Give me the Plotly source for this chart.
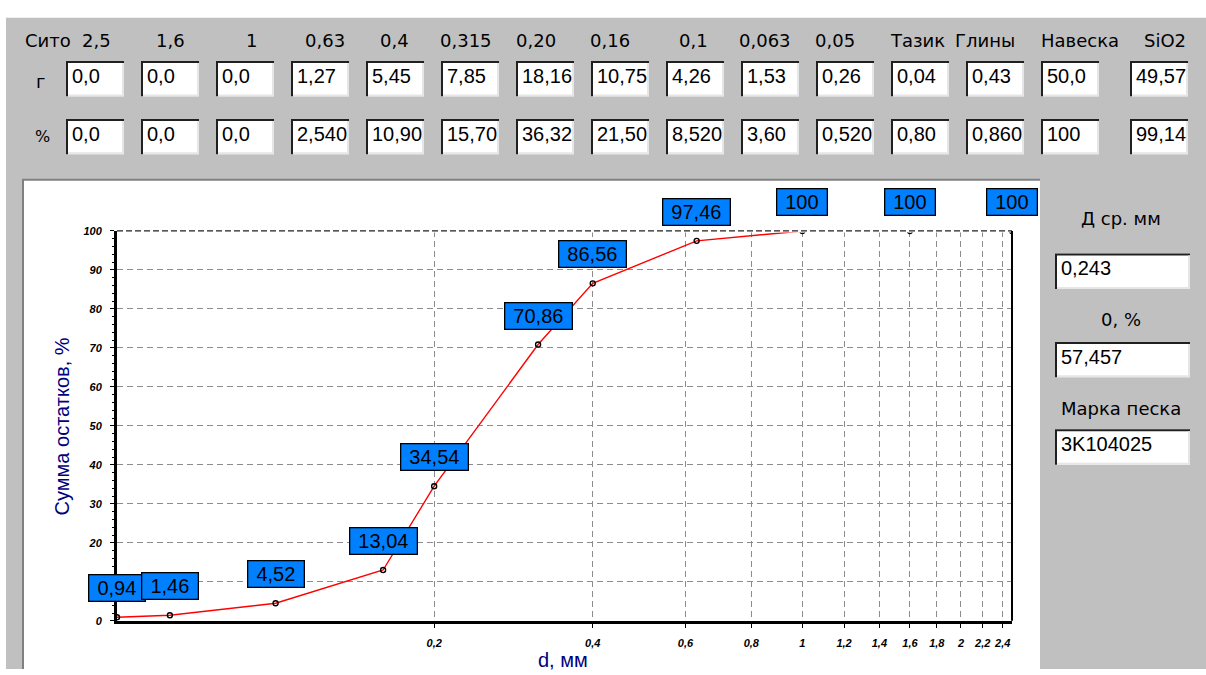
import numpy as np
import plotly.graph_objects as go

# ---------------- data ----------------
# sieve table
sieve_headers = ["2,5", "1,6", "1", "0,63", "0,4", "0,315", "0,20", "0,16", "0,1",
                 "0,063", "0,05", "Тазик", "Глины", "Навеска", "SiO2"]
mass_g = ["0,0", "0,0", "0,0", "1,27", "5,45", "7,85", "18,16", "10,75", "4,26",
          "1,53", "0,26", "0,04", "0,43", "50,0", "49,57"]
mass_pct = ["0,0", "0,0", "0,0", "2,540", "10,90", "15,70", "36,32", "21,50", "8,520",
            "3,60", "0,520", "0,80", "0,860", "100", "99,14"]

# grading curve
d_mm = [0.05, 0.063, 0.1, 0.16, 0.2, 0.315, 0.4, 0.63, 1.0, 1.6, 2.5]
residue_sum = [0.94, 1.46, 4.52, 13.04, 34.54, 70.86, 86.56, 97.46, 100, 100, 100]

x_tickvals = [0.2, 0.4, 0.6, 0.8, 1, 1.2, 1.4, 1.6, 1.8, 2, 2.2, 2.4]
x_ticktext = ["0,2", "0,4", "0,6", "0,8", "1", "1,2", "1,4", "1,6", "1,8", "2", "2,2", "2,4"]

# side panel
side_labels = ["Д ср. мм", "0, %", "Марка песка"]
side_values = ["0,243", "57,457", "3K104025"]

# ---------------- layout helpers ----------------
W, H = 1206, 675
FORM_BG = "#C0C0C0"
FONT_UI = "DejaVu Sans"
FONT_BOX = "Liberation Sans"


def px(x):
    return x / W


def py(y):
    return 1 - y / H


shapes = []
annotations = []

# form background
shapes.append(dict(type="rect", xref="paper", yref="paper", layer="below",
                   x0=px(6), x1=px(W), y0=0, y1=py(12),
                   fillcolor=FORM_BG, line=dict(width=0)))
# chart panel
shapes.append(dict(type="rect", xref="paper", yref="paper", layer="below",
                   x0=px(22), x1=px(1040), y0=0, y1=py(177),
                   fillcolor="white", line=dict(width=0)))
shapes.append(dict(type="path", xref="paper", yref="paper", layer="below",
                   path=f"M {px(23)} 0 L {px(23)} {py(177)} L {px(1040)} {py(177)}",
                   line=dict(color="#808080", width=2)))


def text_box(x0, y0, x1, y1, value):
    shapes.append(dict(type="rect", xref="paper", yref="paper", layer="below",
                       x0=px(x0), x1=px(x1), y0=py(y1), y1=py(y0),
                       fillcolor="white", line=dict(width=0)))
    shapes.append(dict(type="path", xref="paper", yref="paper", layer="below",
                       path=f"M {px(x0 + 1)} {py(y1)} L {px(x0 + 1)} {py(y0 + 1)} L {px(x1)} {py(y0 + 1)}",
                       line=dict(color="#202020", width=2)))
    shapes.append(dict(type="path", xref="paper", yref="paper", layer="below",
                       path=f"M {px(x0 + 2)} {py(y1 - 1)} L {px(x1 - 1)} {py(y1 - 1)} L {px(x1 - 1)} {py(y0 + 2)}",
                       line=dict(color="#E6E6E6", width=2)))
    annotations.append(dict(xref="paper", yref="paper", x=px(x0 + 4), y=py((y0 + y1) / 2 - 3),
                            xanchor="left", yanchor="middle", showarrow=False, text=value,
                            font=dict(family=FONT_BOX, size=20, color="black")))


def label(x, y, text, size=18, family=FONT_UI, color="black", anchor="center"):
    # plotly centres the whole line box, so lift it a little to centre the glyphs
    annotations.append(dict(xref="paper", yref="paper", x=px(x), y=py(y - 4),
                            xanchor=anchor, yanchor="middle", showarrow=False, text=text,
                            font=dict(family=family, size=size, color=color)))


# table header and rows
header_cx = [96, 170, 251, 325, 394, 466, 536, 610, 693, 765, 835, 917, 985, 1080, 1165]
box_x = [66 + 75 * i for i in range(14)] + [1130]
label(23, 39, "Сито", anchor="left")
for cx, h in zip(header_cx, sieve_headers):
    label(cx, 39, h)
label(40, 81, "г")
label(42, 137, "%", size=16)
for bx, g, p in zip(box_x, mass_g, mass_pct):
    text_box(bx, 56, bx + 58, 92, g)
    text_box(bx, 115, bx + 58, 151, p)

# side panel
side_label_y = [220, 323, 414]
side_box_y = [252, 342, 431]
for ly, by, t, v in zip(side_label_y, side_box_y, side_labels, side_values):
    label(1121, ly, t)
    text_box(1055, by, 1190, by + 36, v)

# axis titles
annotations.append(dict(xref="paper", yref="paper", x=px(62), y=py(428),
                        xanchor="center", yanchor="middle", showarrow=False,
                        text="Сумма остатков, %", textangle=-90,
                        font=dict(family=FONT_BOX, size=20, color="#000080")))
label(563, 670, "d, мм", size=20, family=FONT_BOX, color="#000080")

# frame of the plotting area: solid right edge, dashed top edge
shapes.append(dict(type="line", xref="x domain", yref="y domain", layer="above",
                   x0=0, x1=1, y0=1, y1=1, line=dict(color="white", width=3)))
shapes.append(dict(type="line", xref="x domain", yref="y domain", layer="above",
                   x0=0, x1=1, y0=1, y1=1, line=dict(color="#202020", width=1.2, dash="6px,3px")))
shapes.append(dict(type="line", xref="x domain", yref="y domain", layer="above",
                   x0=1, x1=1, y0=0, y1=1, line=dict(color="black", width=2)))

# value labels above each point
for d, v in zip(d_mm, residue_sum):
    txt = f"{v:g}".replace(".", ",")
    w = sum(5.8 if ch == "," else 11.1 for ch in txt) + 14
    annotations.append(dict(xref="x", yref="y", x=np.log10(d), y=v, yshift=29,
                            showarrow=False, text=txt, width=w, height=23,
                            bgcolor="#0080FF", bordercolor="black", borderwidth=1.3, borderpad=1,
                            font=dict(family=FONT_BOX, size=20, color="black")))

fig = go.Figure()
fig.add_trace(go.Scatter(
    x=d_mm, y=residue_sum, mode="lines+markers",
    line=dict(color="#FF0000", width=1.4),
    marker=dict(symbol="circle-open", size=5, color="black", line=dict(width=1.4, color="black")),
    hoverinfo="skip",
))

tick_font = dict(family=FONT_BOX, size=11, color="black", weight="bold", style="italic")
grid_style = dict(showgrid=True, gridcolor="#8C8C8C", gridwidth=1, griddash="6px,4px",
                  zeroline=False, showline=True, linecolor="black", linewidth=3,
                  ticks="outside", ticklen=4, tickcolor="black", tickwidth=1,
                  tickfont=tick_font, ticklabelstandoff=6, fixedrange=True)

fig.update_layout(
    width=W, height=H,
    margin=dict(l=0, r=0, t=0, b=0, pad=0),
    paper_bgcolor="white",
    plot_bgcolor="rgba(0,0,0,0)",
    showlegend=False,
    xaxis=dict(type="log", range=[np.log10(0.05), np.log10(2.5)],
               domain=[117 / W, 1012 / W],
               tickmode="array", tickvals=x_tickvals, ticktext=x_ticktext,
               **grid_style),
    yaxis=dict(range=[0, 100], domain=[1 - 626 / H, 1 - 229 / H],
               tickmode="linear", tick0=0, dtick=10,
               minor=dict(ticks="outside", ticklen=2, dtick=2, tickcolor="black", showgrid=False),
               **grid_style),
    shapes=shapes,
    annotations=annotations,
)

fig.write_html("out.html")
